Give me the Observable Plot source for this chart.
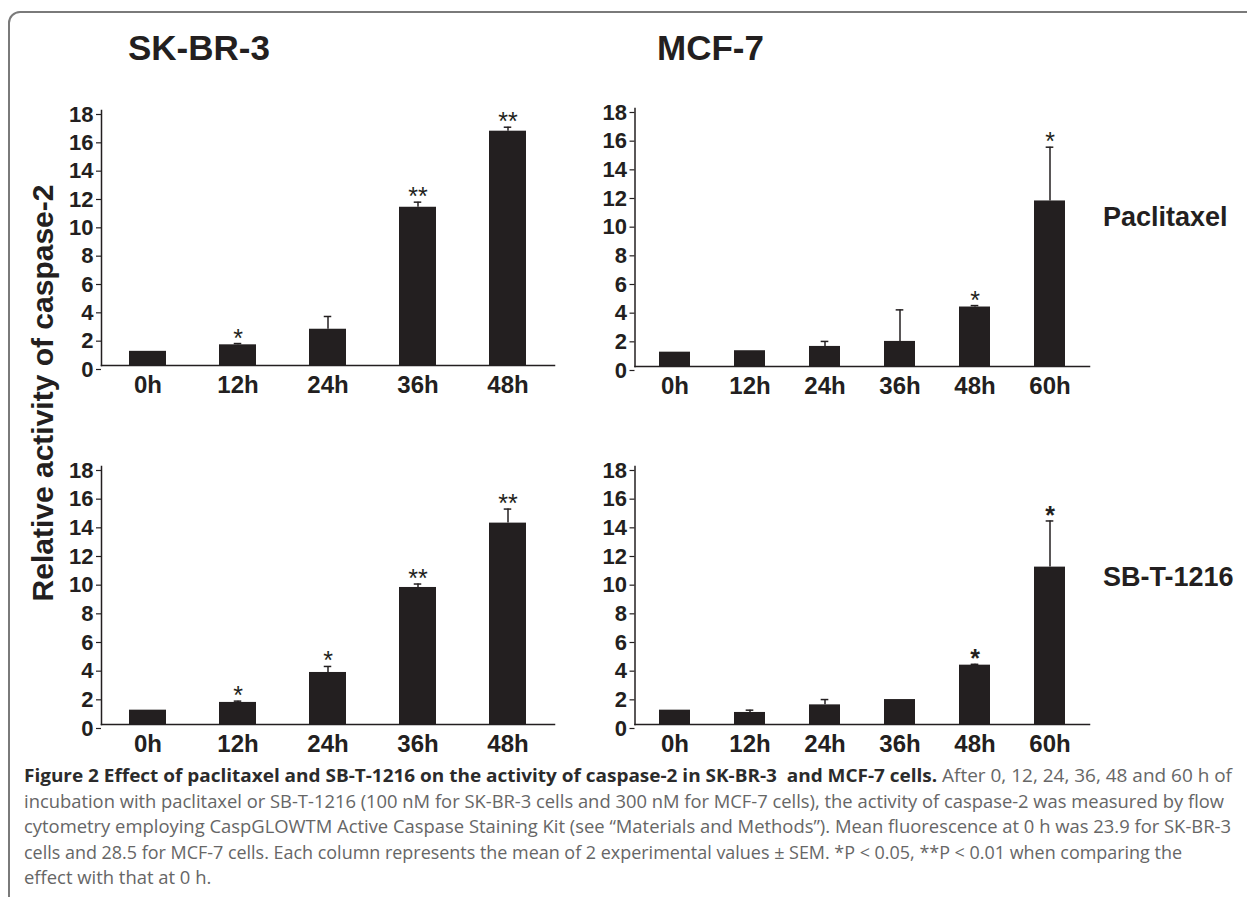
<!DOCTYPE html>
<html><head><meta charset="utf-8">
<script src="https://cdn.jsdelivr.net/npm/d3@7"></script>
<script src="https://cdn.jsdelivr.net/npm/@observablehq/plot@0.6"></script>
<style>
html,body{margin:0;padding:0;background:#fff;overflow:hidden;}
#root{position:relative;width:1247px;height:897px;overflow:hidden;font-family:"Liberation Sans",Arial,sans-serif;background:#fff;}
.frame{position:absolute;left:8px;top:11px;width:1270px;height:920px;border:2px solid #7a7a7a;border-radius:12px;box-sizing:border-box;}
.lbl{position:absolute;font-weight:bold;color:#231f20;line-height:1;white-space:nowrap;}
.panel{position:absolute;}
#caption{position:absolute;left:24px;top:763px;font-family:"Open Sans",sans-serif;font-size:18px;line-height:25.5px;color:#666;}
#caption .line{white-space:nowrap;transform-origin:0 0;width:max-content;}
#caption b{color:#2b2b2b;font-weight:bold;}
</style></head><body>
<div id="root">
  <div class="frame"></div>
  <div class="lbl" style="left:128px;top:30px;font-size:35px;">SK-BR-3</div>
  <div class="lbl" style="left:657px;top:30px;font-size:35px;">MCF-7</div>
  <div class="lbl" style="left:1103px;top:204px;font-size:27px;">Paclitaxel</div>
  <div class="lbl" style="left:1103px;top:564px;font-size:27px;">SB-T-1216</div>
  <div class="lbl" id="ytitle" style="font-size:30px;left:43px;top:393px;transform:translate(-50%,-50%) rotate(-90deg);">Relative activity of caspase-2</div>
  <div id="p1" class="panel"></div>
  <div id="p2" class="panel"></div>
  <div id="p3" class="panel"></div>
  <div id="p4" class="panel"></div>
  <div id="caption">
    <div class="line"><b>Figure 2 Effect of paclitaxel and SB-T-1216 on the activity of caspase-2 in SK-BR-3&nbsp; and MCF-7 cells.</b> After 0, 12, 24, 36, 48 and 60 h of</div>
    <div class="line">incubation with paclitaxel or SB-T-1216 (100 nM for SK-BR-3 cells and 300 nM for MCF-7 cells), the activity of caspase-2 was measured by flow</div>
    <div class="line">cytometry employing CaspGLOWTM Active Caspase Staining Kit (see “Materials and Methods”). Mean fluorescence at 0 h was 23.9 for SK-BR-3</div>
    <div class="line">cells and 28.5 for MCF-7 cells. Each column represents the mean of 2 experimental values ± SEM. *P &lt; 0.05, **P &lt; 0.01 when comparing the</div>
    <div class="line">effect with that at 0 h.</div>
  </div>
</div>
<script>
// ---- data ----
const timesSK = ["0h", "12h", "24h", "36h", "48h"];
const timesMCF = ["0h", "12h", "24h", "36h", "48h", "60h"];
const yTicks = [0, 2, 4, 6, 8, 10, 12, 14, 16, 18];

const skPacMean = [1.0, 1.46, 2.56, 11.17, 16.54];
const skPacErr = [null, 1.55, 3.46, 11.53, 16.82];
const skPacStars = ["", "*", "", "**", "**"];

const mcfPacMean = [1.0, 1.1, 1.4, 1.75, 4.15, 11.55];
const mcfPacErr = [null, null, 1.75, 3.95, 4.25, 15.3];
const mcfPacStars = ["", "", "", "", "*", "*"];

const skSbMean = [1.0, 1.54, 3.63, 9.56, 14.05];
const skSbErr = [null, 1.63, 4.05, 9.8, 15.03];
const skSbStars = ["", "*", "*", "**", "**"];

const mcfSbMean = [1.0, 0.84, 1.37, 1.74, 4.14, 10.98];
const mcfSbErr = [null, 1.0, 1.74, null, 4.2, 14.2];
const mcfSbStars = ["", "", "", "", "*", "*"];

const INK = "#231f20";

function panel(el, cfg) {
  const {times, mean, err, stars, left, svgW, ax0, ax1, y18, y0, starWeight} = cfg;
  const mt = 20, mb = 45;
  const height = mt + (y0 - y18) + mb;
  const ml = ax0 - left, mr = svgW - (ax1 - left);
  const pi = 0.585, po = 0.3;
  const step = (ax1 - ax0) / (times.length - pi + 2 * po);
  const bw = step * (1 - pi);
  const inset = Math.max(0, (bw - 8) / 2);
  const data = times.map((t, i) => ({t, v: mean[i], e: err[i], s: stars[i]}));
  const withErr = data.filter(d => d.e != null);
  const chart = Plot.plot({
    width: svgW, height,
    marginLeft: ml, marginRight: mr, marginTop: mt, marginBottom: mb,
    style: {fontFamily: '"Liberation Sans", Arial, sans-serif', fontSize: "22px", fontWeight: "bold", color: INK, background: "transparent", overflow: "visible"},
    x: {domain: times, paddingInner: pi, paddingOuter: po},
    y: {domain: [0, 18]},
    marks: [
      Plot.barY(data, {x: "t", y: "v", fill: INK}),
      Plot.ruleX(withErr, {x: "t", y1: "v", y2: "e", stroke: INK, strokeWidth: 1.5}),
      Plot.tickY(withErr, {x: "t", y: "e", insetLeft: inset, insetRight: inset, stroke: INK, strokeWidth: 1.5}),
      Plot.text(data.filter(d => d.s), {x: "t", y: d => (d.e != null ? d.e : d.v), text: "s", dy: -5, fontSize: 25, fontWeight: starWeight, fill: INK, fontFamily: '"Liberation Sans", Arial, sans-serif'}),
      Plot.axisY({ticks: yTicks, tickSize: 5, tickPadding: 3, dy: 4, label: null, stroke: INK, strokeWidth: 1.2, fill: INK}),
      Plot.axisX({tickSize: 0, tickPadding: 10, label: null, fill: INK, fontSize: 24}),
      Plot.frame({anchor: "left", stroke: INK, strokeWidth: 1.5}),
      Plot.frame({anchor: "bottom", stroke: INK, strokeWidth: 1.5})
    ]
  });
  el.style.left = left + "px";
  el.style.top = (y18 - mt) + "px";
  el.appendChild(chart);
}

panel(document.getElementById("p1"), {times: timesSK, mean: skPacMean, err: skPacErr, stars: skPacStars, left: 0, svgW: 575, ax0: 101, ax1: 554, y18: 110, y0: 365, starWeight: "normal"});
panel(document.getElementById("p2"), {times: timesMCF, mean: mcfPacMean, err: mcfPacErr, stars: mcfPacStars, left: 560, svgW: 540, ax0: 634.5, ax1: 1089, y18: 108, y0: 366, starWeight: "normal"});
panel(document.getElementById("p3"), {times: timesSK, mean: skSbMean, err: skSbErr, stars: skSbStars, left: 0, svgW: 575, ax0: 101, ax1: 554, y18: 466, y0: 724, starWeight: "normal"});
panel(document.getElementById("p4"), {times: timesMCF, mean: mcfSbMean, err: mcfSbErr, stars: mcfSbStars, left: 560, svgW: 540, ax0: 634.5, ax1: 1089, y18: 466, y0: 724, starWeight: "bold"});

// fit caption lines to the reference widths
const targets = [1232, 1224, 1231, 1182];
function fitCaption() {
  const lines = document.querySelectorAll("#caption .line");
  const scales = [];
  lines.forEach((ln, i) => {
    ln.style.transform = "none";
    const w = ln.getBoundingClientRect().width;
    if (i < targets.length) {
      const s = (targets[i] - 24) / w;
      scales.push(s);
      ln.style.transform = `scaleX(${s})`;
    }
  });
  const avg = scales.reduce((a, b) => a + b, 0) / scales.length;
  lines[lines.length - 1].style.transform = `scaleX(${avg})`;
}
fitCaption();
if (document.fonts && document.fonts.ready) document.fonts.ready.then(fitCaption);
</script>
</body></html>
